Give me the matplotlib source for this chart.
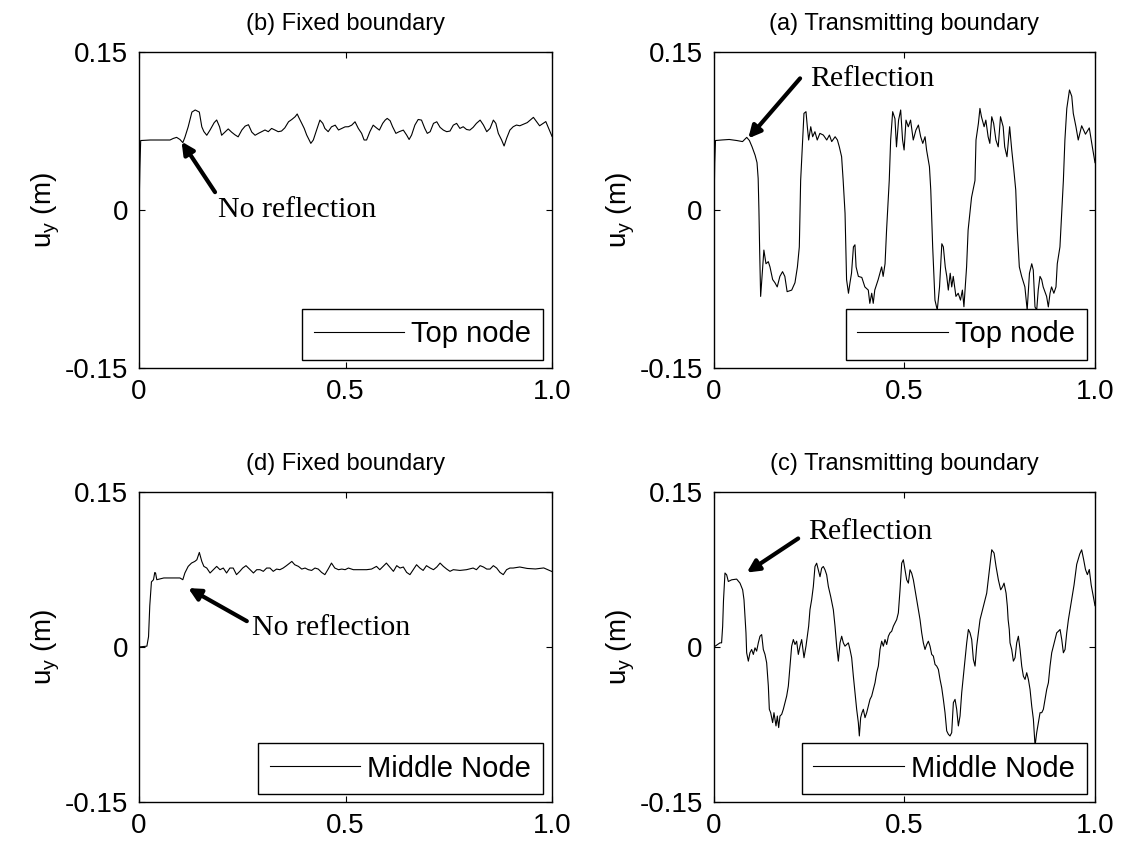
import matplotlib
matplotlib.use("Agg")
import matplotlib.pyplot as plt

# ---- data: time (s) and u_y (m) ----
# (b) fixed boundary, top node
t_b = [0.0, 0.002, 0.004, 0.027, 0.051, 0.075, 0.083, 0.091, 0.099, 0.106, 0.111, 0.119, 0.128, 0.136,
       0.146, 0.152, 0.157, 0.164, 0.172, 0.182, 0.188, 0.195, 0.200, 0.208, 0.216, 0.224, 0.232, 0.240,
       0.249, 0.257, 0.265, 0.273, 0.281, 0.289, 0.297, 0.305, 0.313, 0.321, 0.329, 0.337, 0.345, 0.353,
       0.362, 0.370, 0.378, 0.383, 0.388, 0.394, 0.400, 0.406, 0.412, 0.416, 0.422, 0.430, 0.438, 0.445,
       0.450, 0.458, 0.466, 0.475, 0.483, 0.491, 0.499, 0.507, 0.515, 0.523, 0.531, 0.539, 0.545, 0.551,
       0.559, 0.567, 0.575, 0.582, 0.590, 0.596, 0.601, 0.608, 0.614, 0.622, 0.630, 0.640, 0.648, 0.654,
       0.660, 0.668, 0.676, 0.684, 0.692, 0.698, 0.705, 0.713, 0.721, 0.729, 0.737, 0.745, 0.753, 0.761,
       0.769, 0.777, 0.785, 0.793, 0.801, 0.809, 0.817, 0.826, 0.834, 0.842, 0.850, 0.858, 0.864, 0.870,
       0.878, 0.884, 0.890, 0.898, 0.906, 0.914, 0.922, 0.940, 0.955, 0.970, 0.985, 1.0]
u_b = [0.0, 0.040, 0.066, 0.0665, 0.0665, 0.0665, 0.068, 0.069, 0.067, 0.064, 0.069, 0.079, 0.093, 0.095,
       0.093, 0.079, 0.0745, 0.071, 0.076, 0.083, 0.0855, 0.079, 0.071, 0.074, 0.077, 0.074, 0.0715, 0.0695,
       0.076, 0.0797, 0.081, 0.074, 0.071, 0.0728, 0.0744, 0.076, 0.0744, 0.0775, 0.076, 0.0744, 0.075, 0.078,
       0.0838, 0.086, 0.0886, 0.0912, 0.087, 0.0823, 0.0775, 0.0712, 0.0665, 0.0633, 0.0665, 0.076, 0.0854, 0.0823,
       0.0775, 0.0744, 0.079, 0.0806, 0.076, 0.0775, 0.079, 0.0791, 0.0806, 0.0838, 0.0775, 0.0728, 0.0665, 0.0665,
       0.0744, 0.0806, 0.078, 0.0759, 0.0823, 0.0854, 0.087, 0.0848, 0.0791, 0.0728, 0.0744, 0.0759, 0.0712, 0.067,
       0.0712, 0.0807, 0.086, 0.0854, 0.0775, 0.0728, 0.0744, 0.0823, 0.0838, 0.0785, 0.0759, 0.0744, 0.075, 0.0806,
       0.0823, 0.0775, 0.0791, 0.0765, 0.0759, 0.0785, 0.0823, 0.0854, 0.0807, 0.0744, 0.0775, 0.0854, 0.0823, 0.0728,
       0.0665, 0.0608, 0.068, 0.0759, 0.0791, 0.0807, 0.080, 0.083, 0.088, 0.080, 0.084, 0.070]

# (a) transmitting boundary, top node
t_a = [0.0, 0.002, 0.004, 0.02, 0.04, 0.06, 0.075, 0.086, 0.093, 0.100, 0.108, 0.113, 0.116, 0.118, 0.120,
       0.1225, 0.125, 0.131, 0.1365, 0.1426, 0.147, 0.154, 0.160, 0.166, 0.173, 0.180, 0.186, 0.192, 0.204,
       0.2126, 0.219, 0.224, 0.2275, 0.2327, 0.2362, 0.2415, 0.245, 0.2485, 0.254, 0.259, 0.265, 0.271, 0.278,
       0.287, 0.296, 0.303, 0.309, 0.318, 0.324, 0.329, 0.335, 0.339, 0.344, 0.348, 0.353, 0.357, 0.361, 0.366,
       0.370, 0.373, 0.379, 0.388, 0.396, 0.405, 0.409, 0.414, 0.418, 0.422, 0.431, 0.440, 0.444, 0.449, 0.453,
       0.460, 0.4637, 0.469, 0.475, 0.479, 0.4845, 0.490, 0.495, 0.499, 0.504, 0.510, 0.516, 0.523, 0.530,
       0.5365, 0.5425, 0.548, 0.554, 0.558, 0.5655, 0.569, 0.574, 0.580, 0.586, 0.592, 0.598, 0.602, 0.607,
       0.611, 0.615, 0.620, 0.624, 0.628, 0.635, 0.641, 0.647, 0.652, 0.656, 0.659, 0.663, 0.667, 0.676, 0.685,
       0.6877, 0.694, 0.698, 0.702, 0.709, 0.7135, 0.7195, 0.724, 0.729, 0.734, 0.740, 0.746, 0.752, 0.759,
       0.763, 0.769, 0.776, 0.7815, 0.787, 0.792, 0.796, 0.8014, 0.8075, 0.816, 0.822, 0.828, 0.834, 0.838,
       0.8425, 0.847, 0.851, 0.8556, 0.860, 0.864, 0.873, 0.8775, 0.882, 0.886, 0.892, 0.8976, 0.901, 0.908,
       0.9125, 0.917, 0.921, 0.926, 0.933, 0.939, 0.943, 0.950, 0.956, 0.965, 0.975, 0.985, 0.993, 1.0]
u_a = [0.0, 0.045, 0.066, 0.0665, 0.067, 0.066, 0.065, 0.069, 0.066, 0.060, 0.052, 0.045, 0.030, 0.0, -0.040,
       -0.082, -0.069, -0.038, -0.051, -0.049, -0.054, -0.066, -0.069, -0.073, -0.063, -0.0585, -0.063, -0.0775, -0.076,
       -0.069, -0.054, -0.035, 0.028, 0.0665, 0.0918, 0.0934, 0.0791, 0.0665, 0.0791, 0.0696, 0.0744, 0.0665, 0.0728,
       0.0712, 0.0665, 0.0712, 0.065, 0.0696, 0.0665, 0.060, 0.0506, 0.0285, -0.003, -0.066, -0.079, -0.069, -0.060, -0.035,
       -0.033, -0.054, -0.063, -0.064, -0.073, -0.076, -0.0886, -0.079, -0.0886, -0.076, -0.066, -0.054, -0.063, -0.051, -0.019,
       0.028, 0.0665, 0.0934, 0.0867, 0.060, 0.0854, 0.095, 0.0665, 0.057, 0.0854, 0.0791, 0.0854, 0.0665, 0.0759,
       0.0807, 0.0696, 0.0633, 0.0696, 0.057, 0.0411, 0.019, -0.035, -0.0855, -0.095, -0.073, -0.032, -0.035, -0.054,
       -0.063, -0.076, -0.060, -0.073, -0.063, -0.082, -0.079, -0.0855, -0.076, -0.0918, -0.076, -0.054, -0.019, 0.012, 0.028,
       0.0665, 0.0823, 0.0965, 0.0886, 0.0791, 0.0854, 0.0696, 0.0633, 0.0886, 0.0823, 0.0665, 0.060, 0.0886, 0.0791,
       0.060, 0.0506, 0.0791, 0.057, 0.038, 0.019, -0.019, -0.054, -0.063, -0.073, -0.095, -0.060, -0.051, -0.057,
       -0.092, -0.095, -0.076, -0.063, -0.066, -0.073, -0.082, -0.092, -0.079, -0.073, -0.079, -0.073, -0.051, -0.035,
       -0.003, 0.028, 0.0665, 0.0965, 0.114, 0.108, 0.0918, 0.0791, 0.0665, 0.080, 0.072, 0.078, 0.060, 0.045]

# (d) fixed boundary, middle node
t_d = [0.0, 0.019, 0.023, 0.026, 0.030, 0.035, 0.038, 0.040, 0.043, 0.060, 0.080, 0.099, 0.106, 0.111, 0.119,
       0.127, 0.135, 0.140, 0.146, 0.152, 0.157, 0.164, 0.172, 0.180, 0.188, 0.196, 0.204, 0.212, 0.220, 0.228,
       0.236, 0.244, 0.251, 0.259, 0.269, 0.277, 0.285, 0.293, 0.301, 0.309, 0.317, 0.325, 0.333, 0.341, 0.349,
       0.357, 0.365, 0.370, 0.377, 0.386, 0.394, 0.402, 0.410, 0.418, 0.426, 0.434, 0.442, 0.450, 0.458, 0.466,
       0.474, 0.483, 0.491, 0.499, 0.507, 0.519, 0.535, 0.551, 0.563, 0.575, 0.583, 0.591, 0.599, 0.607, 0.616,
       0.624, 0.632, 0.640, 0.648, 0.656, 0.664, 0.672, 0.680, 0.688, 0.696, 0.705, 0.713, 0.721, 0.729, 0.737,
       0.745, 0.753, 0.761, 0.777, 0.793, 0.809, 0.817, 0.826, 0.834, 0.842, 0.850, 0.858, 0.866, 0.874, 0.882,
       0.890, 0.898, 0.906, 0.922, 0.940, 0.960, 0.980, 1.0]
u_d = [0.0, 0.0008, 0.010, 0.040, 0.063, 0.0651, 0.072, 0.0716, 0.0651, 0.0668, 0.0668, 0.0668, 0.0651, 0.0716, 0.078,
       0.0812, 0.0828, 0.0844, 0.0915, 0.0828, 0.078, 0.0764, 0.0716, 0.0748, 0.078, 0.0748, 0.0764, 0.0716, 0.0764, 0.0764,
       0.070, 0.0732, 0.0764, 0.0787, 0.0748, 0.0716, 0.0748, 0.0748, 0.0732, 0.0764, 0.0764, 0.0732, 0.0754, 0.0748, 0.0764,
       0.0787, 0.0812, 0.0828, 0.0796, 0.078, 0.0754, 0.0764, 0.0748, 0.0741, 0.0764, 0.0754, 0.0722, 0.070, 0.0754, 0.0812,
       0.0764, 0.0748, 0.0754, 0.0748, 0.0764, 0.0748, 0.0748, 0.0748, 0.0754, 0.078, 0.0748, 0.078, 0.0812, 0.0774, 0.0732,
       0.0787, 0.0764, 0.0774, 0.0722, 0.070, 0.0748, 0.0796, 0.0764, 0.0741, 0.0787, 0.0764, 0.0748, 0.0774, 0.0812, 0.078,
       0.0754, 0.0732, 0.0748, 0.0741, 0.0748, 0.0764, 0.0748, 0.0787, 0.0774, 0.0754, 0.0754, 0.0787, 0.0764, 0.0722, 0.070,
       0.0748, 0.0764, 0.0764, 0.0774, 0.076, 0.0755, 0.0765, 0.073]

# (c) transmitting boundary, middle node
t_c = [0.0, 0.0158, 0.020, 0.0228, 0.025, 0.0289, 0.0333, 0.0377, 0.0464, 0.0595, 0.0683, 0.0753, 0.0788, 0.0814,
       0.084, 0.0858, 0.0902, 0.0945, 0.0989, 0.1033, 0.1077, 0.112, 0.1164, 0.1208, 0.1252, 0.1295, 0.1339, 0.1383,
       0.1427, 0.1453, 0.1488, 0.154, 0.1575, 0.1628, 0.1663, 0.1698, 0.1733, 0.1777, 0.182, 0.1864, 0.1908, 0.1952,
       0.1995, 0.2039, 0.2083, 0.2127, 0.217, 0.2214, 0.2258, 0.2302, 0.2363, 0.2415, 0.245, 0.2485, 0.252, 0.2564,
       0.2608, 0.2651, 0.2695, 0.2739, 0.2783, 0.2827, 0.287, 0.2914, 0.2958, 0.3002, 0.3063, 0.3116, 0.3133, 0.3177,
       0.322, 0.3264, 0.3308, 0.3352, 0.3395, 0.3439, 0.3483, 0.3527, 0.357, 0.3614, 0.3658, 0.3702, 0.3745, 0.3789,
       0.3815, 0.385, 0.3885, 0.392, 0.3964, 0.4008, 0.4052, 0.4095, 0.4139, 0.4183, 0.4227, 0.427, 0.4314, 0.4358,
       0.4402, 0.4445, 0.4489, 0.4533, 0.4577, 0.462, 0.4664, 0.4708, 0.4752, 0.4795, 0.4839, 0.4865, 0.4883, 0.4927,
       0.497, 0.5014, 0.5058, 0.5102, 0.5145, 0.5189, 0.5233, 0.5277, 0.532, 0.5364, 0.5408, 0.5452, 0.5495, 0.5539,
       0.5583, 0.5627, 0.567, 0.5714, 0.5758, 0.5802, 0.5845, 0.5889, 0.5933, 0.5977, 0.602, 0.6064, 0.6108, 0.6152,
       0.6195, 0.6239, 0.6283, 0.6327, 0.637, 0.6414, 0.6458, 0.6502, 0.6545, 0.6589, 0.6633, 0.6677, 0.672, 0.6764,
       0.6808, 0.6852, 0.6895, 0.6939, 0.6983, 0.7027, 0.707, 0.7114, 0.7158, 0.7228, 0.729, 0.7351, 0.7403, 0.7464,
       0.7525, 0.7578, 0.7613, 0.7666, 0.770, 0.772, 0.775, 0.777, 0.7814, 0.7858, 0.7902, 0.7945, 0.7989, 0.8033,
       0.8077, 0.812, 0.8164, 0.8208, 0.8252, 0.8295, 0.8339, 0.8383, 0.8427, 0.847, 0.8514, 0.8558, 0.8602, 0.8645,
       0.8689, 0.8733, 0.8777, 0.882, 0.8864, 0.8908, 0.8952, 0.8995, 0.9039, 0.9083, 0.9127, 0.917, 0.9214, 0.9258,
       0.9302, 0.9345, 0.9389, 0.945, 0.952, 0.960, 0.965, 0.970, 0.975, 0.980, 0.985, 0.990, 0.995, 1.0]
u_c = [0.0, 0.004, 0.004, 0.020, 0.045, 0.0716, 0.0698, 0.0634, 0.065, 0.0657, 0.0618, 0.0553, 0.0457, 0.030,
       0.0137, -0.0056, -0.0137, -0.0056, -0.0024, -0.0072, -0.0008, -0.004, 0.004, 0.0104, 0.012, -0.0024, -0.0072, -0.0153,
       -0.0378, -0.0603, -0.0636, -0.0732, -0.0636, -0.0764, -0.0668, -0.078, -0.0668, -0.0652, -0.0603, -0.0539, -0.0475, -0.0378,
       -0.0185, 0.0008, 0.0072, 0.0024, 0.0056, -0.0072, 0.0008, 0.0072, -0.0104, 0.0008, 0.0104, 0.0201, 0.0362, 0.0458,
       0.0586, 0.0779, 0.0811, 0.0747, 0.068, 0.0763, 0.0779, 0.0747, 0.0698, 0.0586, 0.0489, 0.0392, 0.036, 0.0201,
       0.0008, -0.0137, 0.004, 0.0104, 0.004, 0.0008, 0.0024, 0.004, -0.0024, -0.0104, -0.0282, -0.0442, -0.0603, -0.0732,
       -0.0861, -0.0684, -0.0636, -0.0603, -0.0684, -0.0636, -0.0571, -0.0507, -0.0475, -0.041, -0.0346, -0.0249, -0.0185, -0.0024,
       0.0056, 0.0008, 0.0072, 0.0024, 0.0104, 0.0137, 0.0152, 0.0201, 0.0233, 0.0265, 0.033, 0.0458, 0.0553, 0.0811,
       0.0844, 0.0747, 0.065, 0.0618, 0.0747, 0.0714, 0.065, 0.0553, 0.0457, 0.036, 0.0265, 0.0137, 0.004, -0.0024,
       0.0024, 0.0056, 0.0008, -0.0072, -0.0088, -0.0169, -0.0185, -0.0217, -0.0314, -0.0394, -0.0507, -0.0636, -0.0812, -0.0845,
       -0.0861, -0.0829, -0.0539, -0.0507, -0.0603, -0.0764, -0.0668, -0.0442, -0.0282, -0.0121, 0.004, 0.0169, 0.0137, 0.0072,
       -0.0121, -0.0185, 0.0008, 0.0137, 0.0265, 0.033, 0.0394, 0.0458, 0.0521, 0.0747, 0.0941, 0.0909, 0.0779, 0.065,
       0.0553, 0.0586, 0.0618, 0.0521, 0.0392, 0.0265, 0.0169, 0.004, -0.0024, -0.0137, -0.0104, 0.004, 0.0104, -0.0024,
       -0.0185, -0.0282, -0.0314, -0.0249, -0.0314, -0.041, -0.0571, -0.070, -0.0957, -0.0829, -0.0732, -0.0636, -0.0636, -0.0603,
       -0.0507, -0.041, -0.0346, -0.0185, -0.0056, 0.0008, 0.0072, 0.0137, 0.0152, 0.0169, 0.0072, -0.0056, -0.0024, 0.0137,
       0.0265, 0.0362, 0.0458, 0.060, 0.080, 0.090, 0.094, 0.085, 0.075, 0.070, 0.075, 0.060, 0.050, 0.040]

titles = ["(b) Fixed boundary", "(a) Transmitting boundary",
          "(d) Fixed boundary", "(c) Transmitting boundary"]
legends = ["Top node", "Top node", "Middle Node", "Middle Node"]
notes = ["No reflection", "Reflection", "No reflection", "Reflection"]
# annotation text position and arrow head/tail (data coords)
note_xy = [(0.19, 0.0), (0.252, 0.124), (0.273, 0.018), (0.247, 0.111)]
head_xy = [(0.103, 0.065), (0.090, 0.068), (0.119, 0.057), (0.086, 0.072)]
tail_xy = [(0.184, 0.017), (0.226, 0.125), (0.261, 0.025), (0.221, 0.105)]

plt.rcParams['font.family'] = ['Liberation Sans', 'DejaVu Sans']

fig = plt.figure(figsize=(11.24, 8.41), dpi=100)
rects = [[0.1237, 0.5624, 0.3674, 0.3757],
         [0.6352, 0.5624, 0.3390, 0.3757],
         [0.1237, 0.0464, 0.3674, 0.3686],
         [0.6352, 0.0464, 0.3390, 0.3686]]
series = [(t_b, u_b), (t_a, u_a), (t_d, u_d), (t_c, u_c)]

for i in range(4):
    ax = fig.add_axes(rects[i])
    t, u = series[i]
    ax.plot(t, u, color='k', lw=0.8, label=legends[i])
    ax.set_xlim(0, 1)
    ax.set_ylim(-0.15, 0.15)
    ax.set_xticks([0, 0.5, 1.0])
    ax.set_xticklabels(['0', '0.5', '1.0'])
    ax.set_yticks([-0.15, 0, 0.15])
    ax.set_yticklabels(['-0.15', '0', '0.15'])
    ax.tick_params(direction='in', top=True, right=True, labelsize=20, length=4, pad=8)
    for s in ax.spines.values():
        s.set_linewidth(1.0)
    ax.set_title(titles[i], fontsize=17, pad=16)
    ax.set_ylabel('u$_\\mathregular{y}$ (m)', fontsize=20, labelpad=2)
    leg = ax.legend(loc='lower right', bbox_to_anchor=(0.978, 0.025), borderaxespad=0,
                    fontsize=21, handlelength=3.1, fancybox=False, edgecolor='k',
                    framealpha=1, borderpad=0.4, handletextpad=0.25)
    leg.get_frame().set_linewidth(1.0)
    ax.annotate('', xy=head_xy[i], xytext=tail_xy[i],
                arrowprops=dict(arrowstyle='-|>', lw=3, color='k', mutation_scale=18,
                                shrinkA=0, shrinkB=0))
    ax.text(note_xy[i][0], note_xy[i][1], notes[i], fontsize=21.5, va='center', ha='left',
            family=['Liberation Serif', 'DejaVu Serif'])

fig.savefig('out.png', dpi=100)
